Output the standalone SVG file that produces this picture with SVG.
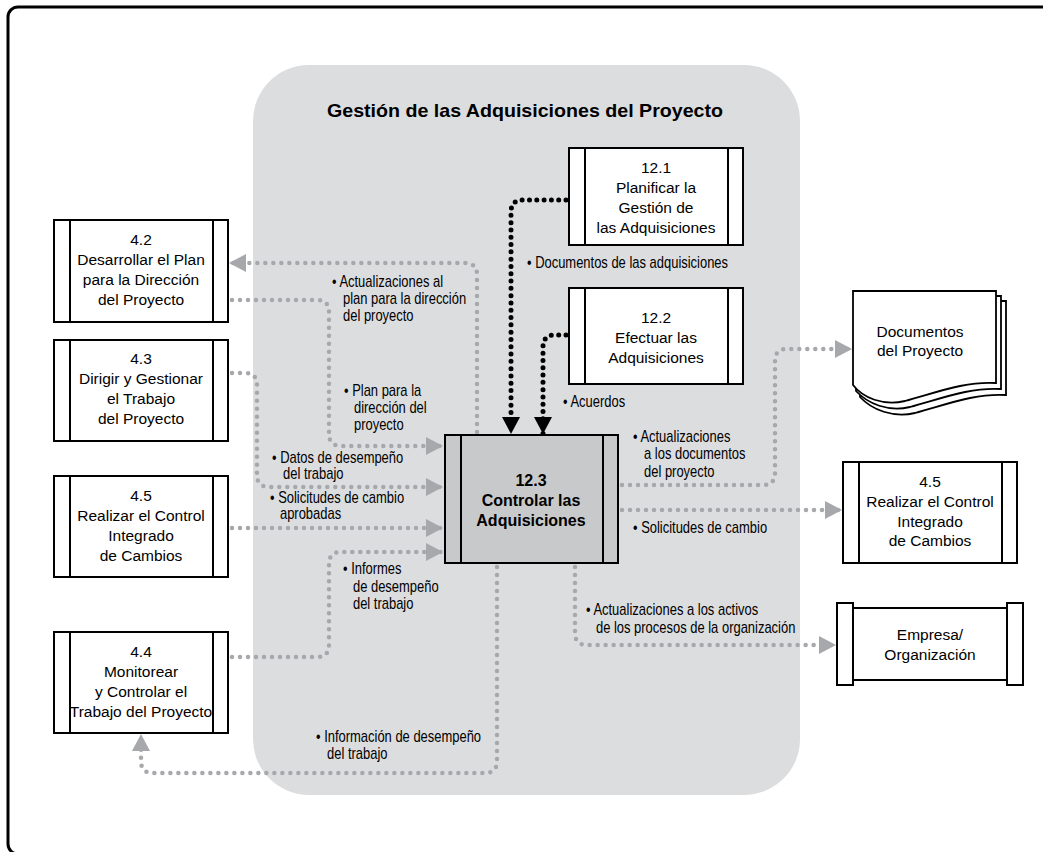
<svg xmlns="http://www.w3.org/2000/svg" width="1043" height="852" viewBox="0 0 1043 852">
<style>
.box{fill:#fff;stroke:#000;stroke-width:2}
.cbox{fill:#c8c9cb;stroke:#000;stroke-width:2}
.bt{font-family:"Liberation Sans",Arial,sans-serif;font-size:15.5px;text-anchor:middle;fill:#000}
.bb{font-family:"Liberation Sans",Arial,sans-serif;font-size:16px;font-weight:bold;text-anchor:middle;fill:#000}
.lb{font-family:"Liberation Sans",Arial,sans-serif;font-size:16px;fill:#000}
.g{fill:none;stroke:#a6a8ab;stroke-width:4.5;stroke-linecap:round;stroke-dasharray:0 8}
.k{fill:none;stroke:#000;stroke-width:5;stroke-linecap:round;stroke-dasharray:0 7.3}
</style>
<defs>
<marker id="ag" markerUnits="userSpaceOnUse" markerWidth="18" markerHeight="18" refX="17" refY="9" orient="auto"><path d="M0,0 L17,9 L0,18 Z" fill="#a6a8ab"/></marker>
<marker id="ak" markerUnits="userSpaceOnUse" markerWidth="18" markerHeight="18" refX="17" refY="9" orient="auto"><path d="M0,0 L17,9 L0,18 Z" fill="#000"/></marker>
</defs>
<rect x="0" y="0" width="1043" height="852" fill="#fff"/>
<rect id="frame" x="8" y="7" width="1100" height="847" rx="10" fill="none" stroke="#000" stroke-width="3"/>
<g id="panel">
<rect x="253" y="65" width="547" height="730" rx="56" fill="#dcdddf"/>
<text x="525" y="117" textLength="396" lengthAdjust="spacingAndGlyphs" style="font-family:'Liberation Sans',Arial,sans-serif;font-size:18.5px;font-weight:bold;text-anchor:middle">Gestión de las Adquisiciones del Proyecto</text>
</g>
<g id="connectors">
<path class="k" d="M566,200 H523 Q511,200 511,212 V434" marker-end="url(#ak)"/>
<path class="k" d="M566,335 H555 Q543,335 543,347 V434" marker-end="url(#ak)"/>
<path class="g" d="M477,432 V275 Q477,263 465,263 H229" marker-end="url(#ag)"/>
<path class="g" d="M232,300 H317 Q329,300 329,312 V434 Q329,446 341,446 H443" marker-end="url(#ag)"/>
<path class="g" d="M232,373 H245 Q257,373 257,385 V475 Q257,487 269,487 H443" marker-end="url(#ag)"/>
<path class="g" d="M232,528 H443" marker-end="url(#ag)"/>
<path class="g" d="M232,657 H317 Q329,657 329,645 V564 Q329,552 341,552 H443" marker-end="url(#ag)"/>
<path class="g" d="M497,567 V761 Q497,773 485,773 H153 Q141,773 141,761 V734" marker-end="url(#ag)"/>
<path class="g" d="M622,485 H763 Q775,485 775,473 V361 Q775,349 787,349 H852" marker-end="url(#ag)"/>
<path class="g" d="M622,510 H842" marker-end="url(#ag)"/>
<path class="g" d="M575,567 V633 Q575,645 587,645 H836" marker-end="url(#ag)"/>
</g>
<g id="labels">
<g transform="translate(527,268) scale(0.81,1)"><text class="lb" x="0" y="0">• Documentos de las adquisiciones</text></g>
<g transform="translate(563,407) scale(0.81,1)"><text class="lb" x="0" y="0">• Acuerdos</text></g>
<g transform="translate(332,287) scale(0.81,1)">
<text class="lb" x="0" y="0">• Actualizaciones al</text>
<text class="lb" x="13.6" y="17">plan para la dirección</text>
<text class="lb" x="13.6" y="34">del proyecto</text>
</g>
<g transform="translate(344,396) scale(0.81,1)">
<text class="lb" x="0" y="0">• Plan para la</text>
<text class="lb" x="12.3" y="17">dirección del</text>
<text class="lb" x="12.3" y="34">proyecto</text>
</g>
<g transform="translate(272,463) scale(0.81,1)">
<text class="lb" x="0" y="0">• Datos de desempeño</text>
<text class="lb" x="13.6" y="16">del trabajo</text>
</g>
<g transform="translate(270,503) scale(0.81,1)">
<text class="lb" x="0" y="0">• Solicitudes de cambio</text>
<text class="lb" x="12.3" y="16">aprobadas</text>
</g>
<g transform="translate(343,574) scale(0.81,1)">
<text class="lb" x="0" y="0">• Informes</text>
<text class="lb" x="12.3" y="18">de desempeño</text>
<text class="lb" x="12.3" y="35">del trabajo</text>
</g>
<g transform="translate(316,742) scale(0.81,1)">
<text class="lb" x="0" y="0">• Información de desempeño</text>
<text class="lb" x="13.6" y="17">del trabajo</text>
</g>
<g transform="translate(633,442) scale(0.81,1)">
<text class="lb" x="0" y="0">• Actualizaciones</text>
<text class="lb" x="13.6" y="17">a los documentos</text>
<text class="lb" x="13.6" y="35">del proyecto</text>
</g>
<g transform="translate(633,533) scale(0.81,1)"><text class="lb" x="0" y="0">• Solicitudes de cambio</text></g>
<g transform="translate(586,615) scale(0.81,1)">
<text class="lb" x="0" y="0">• Actualizaciones a los activos</text>
<text class="lb" x="12.3" y="18">de los procesos de la organización</text>
</g>
</g>
<g id="n12-1">
<rect class="box" x="569" y="148" width="174" height="97"/>
<line x1="585" y1="148" x2="585" y2="245" stroke="#000" stroke-width="2"/>
<line x1="728" y1="148" x2="728" y2="245" stroke="#000" stroke-width="2"/>
<text class="bt" x="656" y="173">12.1</text>
<text class="bt" x="656" y="193">Planificar la</text>
<text class="bt" x="656" y="213">Gestión de</text>
<text class="bt" x="656" y="233">las Adquisiciones</text>
</g>
<g id="n12-2">
<rect class="box" x="569" y="288" width="174" height="96"/>
<line x1="585" y1="288" x2="585" y2="384" stroke="#000" stroke-width="2"/>
<line x1="728" y1="288" x2="728" y2="384" stroke="#000" stroke-width="2"/>
<text class="bt" x="656" y="323">12.2</text>
<text class="bt" x="656" y="343">Efectuar las</text>
<text class="bt" x="656" y="363">Adquisiciones</text>
</g>
<g id="n12-3">
<rect class="cbox" x="445" y="435" width="173" height="128"/>
<line x1="461" y1="435" x2="461" y2="563" stroke="#000" stroke-width="2"/>
<line x1="603" y1="435" x2="603" y2="563" stroke="#000" stroke-width="2"/>
<text class="bb" x="531" y="486">12.3</text>
<text class="bb" x="531" y="506">Controlar las</text>
<text class="bb" x="531" y="526">Adquisiciones</text>
</g>
<g id="n4-2">
<rect class="box" x="54" y="220" width="174" height="102"/>
<line x1="70" y1="220" x2="70" y2="322" stroke="#000" stroke-width="2"/>
<line x1="213" y1="220" x2="213" y2="322" stroke="#000" stroke-width="2"/>
<text class="bt" x="141" y="245">4.2</text>
<text class="bt" x="141" y="265">Desarrollar el Plan</text>
<text class="bt" x="141" y="285">para la Dirección</text>
<text class="bt" x="141" y="305">del Proyecto</text>
</g>
<g id="n4-3">
<rect class="box" x="54" y="340" width="174" height="101"/>
<line x1="70" y1="340" x2="70" y2="441" stroke="#000" stroke-width="2"/>
<line x1="213" y1="340" x2="213" y2="441" stroke="#000" stroke-width="2"/>
<text class="bt" x="141" y="364">4.3</text>
<text class="bt" x="141" y="384">Dirigir y Gestionar</text>
<text class="bt" x="141" y="404">el Trabajo</text>
<text class="bt" x="141" y="424">del Proyecto</text>
</g>
<g id="n4-5a">
<rect class="box" x="54" y="476" width="174" height="101"/>
<line x1="70" y1="476" x2="70" y2="577" stroke="#000" stroke-width="2"/>
<line x1="213" y1="476" x2="213" y2="577" stroke="#000" stroke-width="2"/>
<text class="bt" x="141" y="501">4.5</text>
<text class="bt" x="141" y="521">Realizar el Control</text>
<text class="bt" x="141" y="541">Integrado</text>
<text class="bt" x="141" y="561">de Cambios</text>
</g>
<g id="n4-4">
<rect class="box" x="54" y="632" width="174" height="101"/>
<line x1="70" y1="632" x2="70" y2="733" stroke="#000" stroke-width="2"/>
<line x1="213" y1="632" x2="213" y2="733" stroke="#000" stroke-width="2"/>
<text class="bt" x="141" y="657">4.4</text>
<text class="bt" x="141" y="677">Monitorear</text>
<text class="bt" x="141" y="697">y Controlar el</text>
<text class="bt" x="141" y="717">Trabajo del Proyecto</text>
</g>
<g id="n4-5b">
<rect class="box" x="843" y="462" width="174" height="101"/>
<line x1="859" y1="462" x2="859" y2="563" stroke="#000" stroke-width="2"/>
<line x1="1002" y1="462" x2="1002" y2="563" stroke="#000" stroke-width="2"/>
<text class="bt" x="930" y="487">4.5</text>
<text class="bt" x="930" y="507">Realizar el Control</text>
<text class="bt" x="930" y="527">Integrado</text>
<text class="bt" x="930" y="546">de Cambios</text>
</g>
<g id="empresa">
<rect class="box" x="837" y="603" width="16" height="82"/>
<rect class="box" x="1007" y="603" width="16" height="82"/>
<rect class="box" x="853" y="608" width="154" height="72"/>
<text class="bt" x="930" y="640">Empresa/</text>
<text class="bt" x="930" y="660">Organización</text>
</g>
<g id="documentos" fill="#fff" stroke="#000" stroke-width="1.8">
<path d="M860,301 H1006 V395 C975,393 945,405 915,413 C893,418 872,410 860,397 Z"/>
<path d="M856,296 H1001 V389 C970,387 940,399 910,407 C888,412 868,404 856,391 Z"/>
<path d="M853,291 H996 V383 C965,381 935,393 905,401 C883,406 863,398 853,385 Z"/>
<text class="bt" x="920" y="337" stroke="none" fill="#000">Documentos</text>
<text class="bt" x="920" y="356" stroke="none" fill="#000">del Proyecto</text>
</g>
</svg>
